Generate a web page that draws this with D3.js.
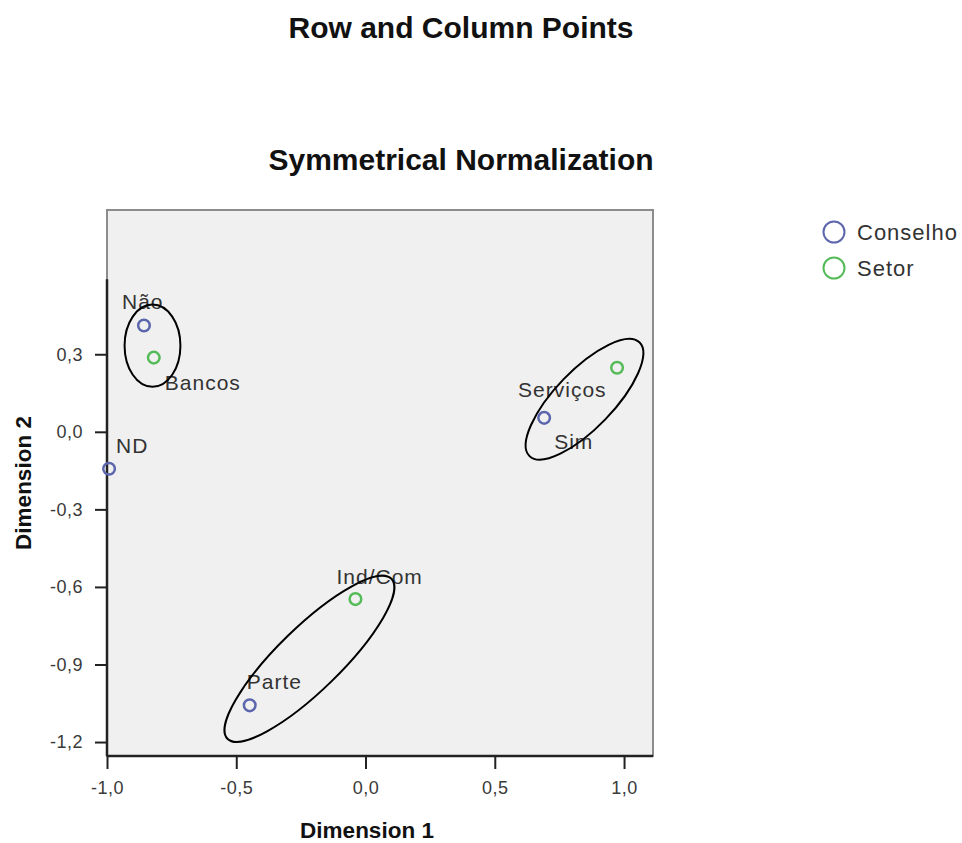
<!DOCTYPE html>
<html>
<head>
<meta charset="utf-8">
<script src="https://cdn.jsdelivr.net/npm/d3@7"></script>
<style>
  html, body { margin: 0; padding: 0; background: #fff; }
  svg { display: block; font-family: "Liberation Sans", Arial, sans-serif; }
</style>
</head>
<body>
<svg id="chart" width="962" height="843"></svg>
<script>
// Correspondence analysis coordinates (symmetrical normalization)
const conselhoLabels = ["Não", "ND", "Sim", "Parte"];
const conselhoDim1   = [-0.857, -0.992, 0.691, -0.448];
const conselhoDim2   = [0.411, -0.143, 0.054, -1.058];

const setorLabels = ["Bancos", "Serviços", "Ind/Com"];
const setorDim1   = [-0.819, 0.973, -0.039];
const setorDim2   = [0.287, 0.248, -0.647];

const xTicks = [-1.0, -0.5, 0.0, 0.5, 1.0];
const yTicks = [0.3, 0.0, -0.3, -0.6, -0.9, -1.2];

const seriesNames = ["Conselho", "Setor"];

// Groupings highlighted by hand-drawn ellipses (data units, angle in degrees)
const groupCenters = [[-0.824, 0.333], [0.847, 0.126], [-0.217, -0.878]];
const groupRadii   = [[0.108, 0.159], [0.306, 0.112], [0.443, 0.122]];
const groupAngles  = [0, 46, 44.3];

// Label placement relative to each point (pixels)
const labelOffsets = {
  "Não": [-22, -17], "ND": [7, -16], "Sim": [10, 31], "Parte": [-3, -16],
  "Bancos": [11, 32], "Serviços": [-99, 29], "Ind/Com": [-19, -15]
};

const colors = { Conselho: "#5c66ad", Setor: "#55bb58" };

const svg = d3.select("#chart");
const plot = { left: 107, top: 210, size: 546 };

const x = d3.scaleLinear().domain([-1.0, 1.112]).range([plot.left, plot.left + plot.size]);
const y = d3.scaleLinear().domain([-1.254, 0.858]).range([plot.top + plot.size, plot.top]);
const unit = x(1) - x(0);

const fmt = d3.formatLocale({ decimal: ",", thousands: ".", grouping: [3], currency: ["", ""], minus: "-" }).format(".1f");

// Titles
svg.append("text").attr("x", 461).attr("y", 38).attr("text-anchor", "middle")
  .attr("font-size", 30).attr("font-weight", "bold").attr("fill", "#111")
  .text("Row and Column Points");
svg.append("text").attr("x", 461).attr("y", 170).attr("text-anchor", "middle")
  .attr("font-size", 30).attr("font-weight", "bold").attr("fill", "#111")
  .text("Symmetrical Normalization");

// Plot background and frame
svg.append("rect")
  .attr("x", plot.left).attr("y", plot.top)
  .attr("width", plot.size).attr("height", plot.size)
  .attr("fill", "#f0f0f0").attr("stroke", "#8c8c8c").attr("stroke-width", 2);

// Axes
const tickText = g => g.selectAll("text")
  .attr("font-size", 18).attr("fill", "#3a3a3a").attr("letter-spacing", 0.5)
  .attr("font-family", "Liberation Sans, Arial, sans-serif");

const xAxis = svg.append("g")
  .attr("transform", `translate(0,${plot.top + plot.size})`)
  .call(d3.axisBottom(x).tickValues(xTicks).tickFormat(fmt).tickSize(13).tickPadding(12));
xAxis.select(".domain").remove();
xAxis.selectAll("line").attr("stroke", "#222").attr("stroke-width", 2);
xAxis.call(tickText);

const yAxis = svg.append("g")
  .attr("transform", `translate(${plot.left},0)`)
  .call(d3.axisLeft(y).tickValues(yTicks).tickFormat(fmt).tickSize(12).tickPadding(12));
yAxis.select(".domain").remove();
yAxis.selectAll("line").attr("stroke", "#222").attr("stroke-width", 2);
yAxis.call(tickText);

// Axis lines spanning the data range
svg.append("line")
  .attr("x1", x(-1.0)).attr("x2", x(1.112))
  .attr("y1", y(-1.254)).attr("y2", y(-1.254))
  .attr("stroke", "#222").attr("stroke-width", 2.5);
svg.append("line")
  .attr("x1", x(-1.0)).attr("x2", x(-1.0))
  .attr("y1", y(0.59)).attr("y2", y(-1.254))
  .attr("stroke", "#222").attr("stroke-width", 2.5);

// Axis titles
svg.append("text").attr("x", 367).attr("y", 838).attr("text-anchor", "middle")
  .attr("font-size", 22.5).attr("font-weight", "bold").attr("fill", "#111")
  .text("Dimension 1");
svg.append("text").attr("transform", "translate(31,483) rotate(-90)").attr("text-anchor", "middle")
  .attr("font-size", 22.5).attr("font-weight", "bold").attr("fill", "#111")
  .text("Dimension 2");

// Points
const points = [
  ...conselhoLabels.map((l, i) => ({ label: l, d1: conselhoDim1[i], d2: conselhoDim2[i], series: "Conselho" })),
  ...setorLabels.map((l, i) => ({ label: l, d1: setorDim1[i], d2: setorDim2[i], series: "Setor" }))
];

const pg = svg.append("g");
pg.selectAll("circle").data(points).join("circle")
  .attr("cx", d => x(d.d1)).attr("cy", d => y(d.d2)).attr("r", 5.8)
  .attr("fill", "none").attr("stroke", d => colors[d.series]).attr("stroke-width", 2.5);

pg.selectAll("text").data(points).join("text")
  .attr("x", d => x(d.d1) + labelOffsets[d.label][0])
  .attr("y", d => y(d.d2) + labelOffsets[d.label][1])
  .attr("font-size", 21).attr("letter-spacing", 1).attr("fill", "#333")
  .text(d => d.label);

// Group ellipses
svg.append("g").selectAll("ellipse").data(groupCenters).join("ellipse")
  .attr("cx", d => x(d[0])).attr("cy", d => y(d[1]))
  .attr("rx", (d, i) => groupRadii[i][0] * unit)
  .attr("ry", (d, i) => groupRadii[i][1] * unit)
  .attr("transform", (d, i) => `rotate(${-groupAngles[i]},${x(d[0])},${y(d[1])})`)
  .attr("fill", "none").attr("stroke", "#000").attr("stroke-width", 2);

// Legend
const legend = svg.append("g").attr("transform", "translate(834,232)");
const items = legend.selectAll("g").data(seriesNames).join("g")
  .attr("transform", (d, i) => `translate(0,${i * 36})`);
items.append("circle").attr("r", 10.5).attr("fill", "none")
  .attr("stroke", d => colors[d]).attr("stroke-width", 2);
items.append("text").attr("x", 23).attr("y", 8)
  .attr("font-size", 22).attr("letter-spacing", 1).attr("fill", "#333")
  .text(d => d);
</script>
</body>
</html>
